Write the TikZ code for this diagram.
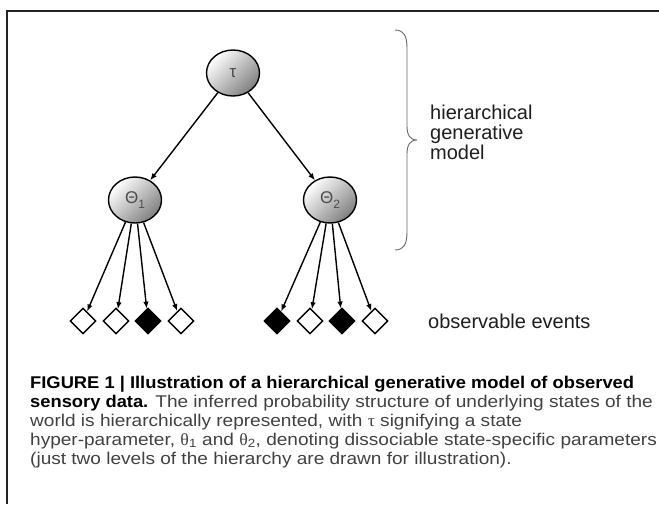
\documentclass[tikz,border=0pt]{standalone}
\usepackage{fontspec}
\setmainfont{Liberation Sans}
\newfontfamily\capfont[FakeStretch=1.12, BoldFeatures={FakeStretch=1.078}]{Liberation Sans}
\newfontfamily\capgreek[FakeStretch=1.05]{Liberation Serif}
\usetikzlibrary{shapes.geometric,arrows.meta}

\definecolor{framegray}{RGB}{35,35,35}
\definecolor{bracegray}{RGB}{105,105,105}
\definecolor{labelgray}{RGB}{30,30,30}
\definecolor{capgray}{RGB}{65,65,65}

\tikzset{
  param/.style={ellipse, draw=black, line width=1.4pt, inner sep=0pt,
    minimum width=53pt, minimum height=46pt,
    top color=white, bottom color=black!50, shading angle=45,
    font=\fontsize{17}{17}\selectfont, text=black!70},
  event/.style={diamond, draw=black, line width=1.4pt, inner sep=0pt,
    minimum size=26pt},
  gen/.style={line width=1.4pt, -{Latex[length=7pt,width=5.5pt]}},
  label/.style={font=\fontsize{20}{20}\selectfont, text=labelgray, inner sep=0pt},
  capline/.style={anchor=base west, inner sep=0pt, text=capgray,
    font=\capfont\fontsize{17}{19}\selectfont}
}

\newcommand{\sublow}[1]{\raisebox{-0.5ex}{\fontsize{12}{12}\selectfont #1}}

\begin{document}
\begin{tikzpicture}[x=1pt, y=-1pt]
\useasboundingbox (0,0) rectangle (659,504);
\draw [framegray, line width=1.5pt] (659,11) -| (7,504);

% hyper-parameter and parameters
\node [param] (tau) at (233,73) {τ};
\node [param] (th1) at (135,200) {Θ\sublow{1}};
\node [param] (th2) at (330,200) {Θ\sublow{2}};
\draw [gen] (tau) -- (th1);
\draw [gen] (tau) -- (th2);

% observable events
\foreach \i/\x/\f in {1/83/white,2/116/white,3/148/black,4/181/white}{
  \node [event, fill=\f] (ea\i) at (\x,321) {};
  \draw [gen] (th1) -- (ea\i);
}
\foreach \i/\x/\f in {1/277/black,2/310/white,3/342/black,4/375/white}{
  \node [event, fill=\f] (eb\i) at (\x,321) {};
  \draw [gen] (th2) -- (eb\i);
}

% brace
\draw [bracegray, line width=0.9pt] (395,30) .. controls (404,30) and (407,36) .. (407,48)
  -- (407,126) .. controls (407,135) and (410,140) .. (417,140)
  .. controls (410,140) and (407,145) .. (407,154)
  -- (407,232) .. controls (407,244) and (404,250) .. (395,250);

\node [label, anchor=north west, align=left] (lvl) at (430,105) {hierarchical\\generative\\model};
\node [label, anchor=west] (obs) at (428,321) {observable events};

% caption
\node [capline] (cap1) at (30,388) {\textbf{\color{black}FIGURE 1 | Illustration of a hierarchical generative model of observed}};
\node [capline] (cap2) at (30,407) {\textbf{\color{black}sensory data.} The inferred probability structure of underlying states of the};
\node [capline] (cap3) at (30,426) {world is hierarchically represented, with {\capgreek τ} signifying a state};
\node [capline] (cap4) at (30,445) {hyper-parameter, {\capgreek θ}\textsubscript{1} and {\capgreek θ}\textsubscript{2}, denoting dissociable state-specific parameters};
\node [capline] (cap5) at (30,464) {(just two levels of the hierarchy are drawn for illustration).};
\end{tikzpicture}
\end{document}
